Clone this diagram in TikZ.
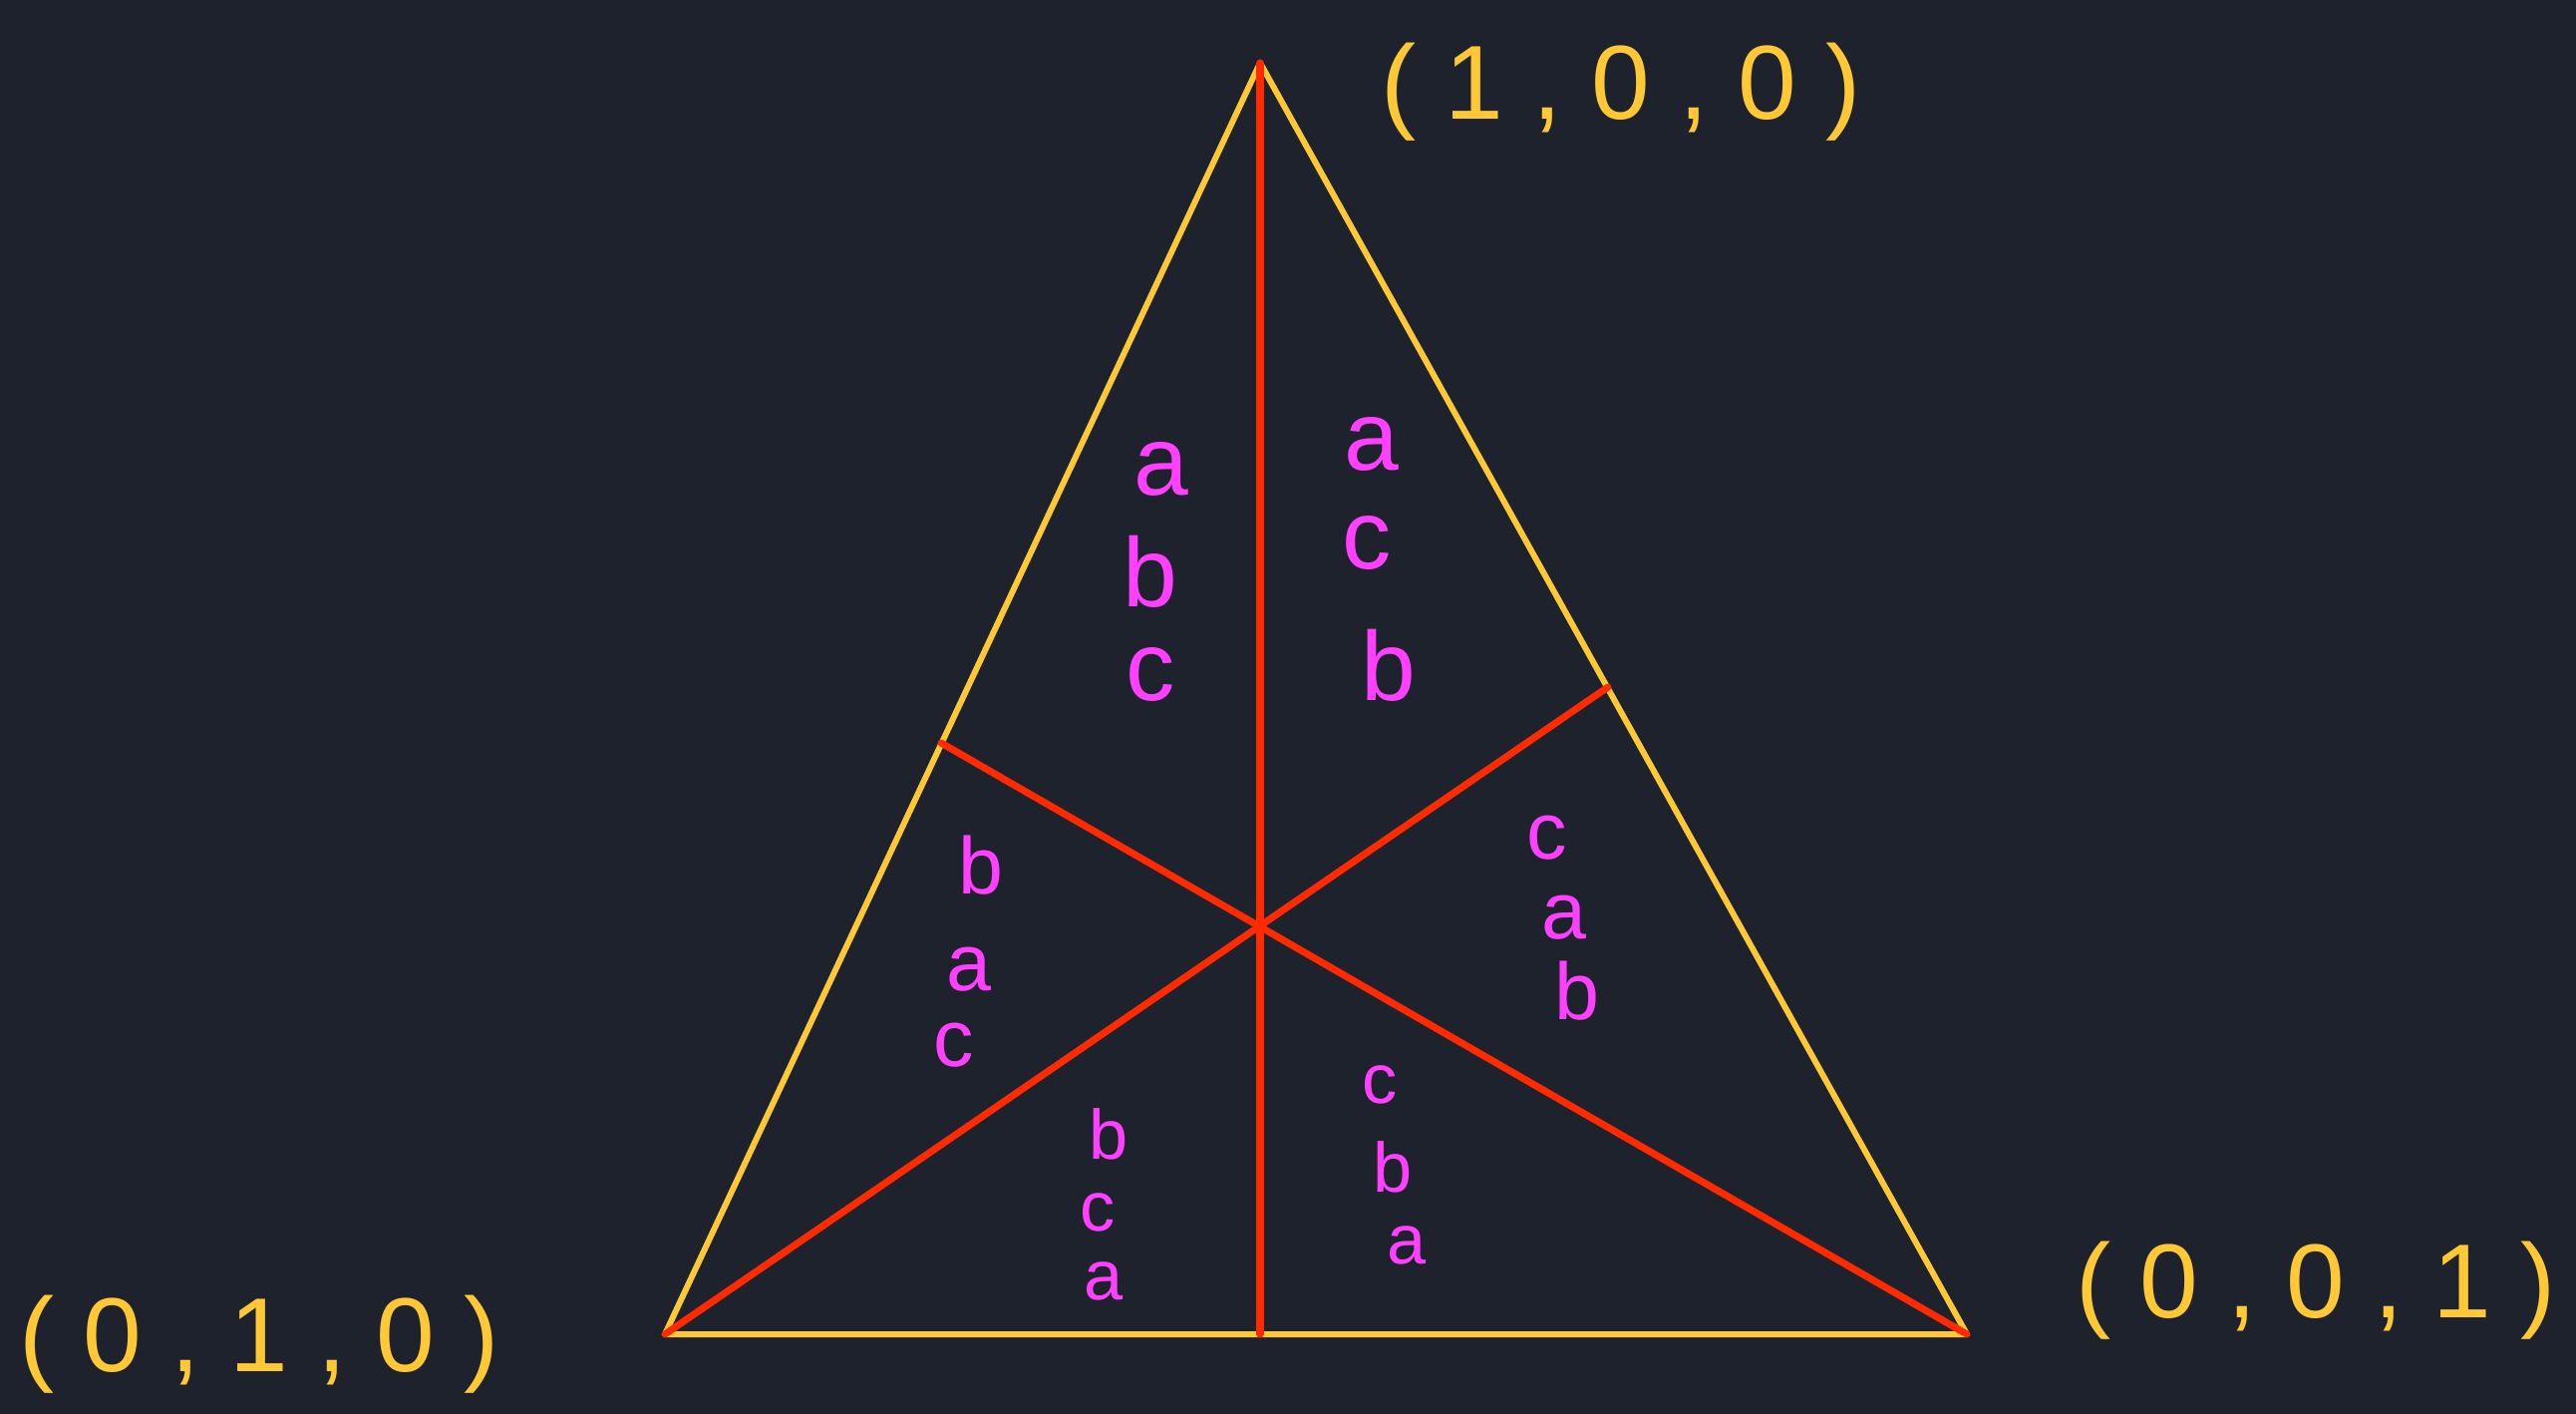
\documentclass[tikz,border=0pt]{standalone}
\usepackage{fontspec}
\setmainfont{Liberation Sans}
\definecolor{bg}{HTML}{1E222D}
\definecolor{yel}{HTML}{FFC834}
\definecolor{redl}{HTML}{FF2A00}
\definecolor{mag}{HTML}{FF40FF}
\begin{document}
\begin{tikzpicture}[x=0.01cm,y=-0.01cm,
  edge/.style={draw=yel,line width=1.7pt,line cap=round,line join=round},
  median/.style={draw=redl,line width=2pt,line cap=round},
  vlabel/.style={text=yel,font=\fontsize{30}{36}\selectfont,inner sep=0pt},
  big/.style={text=mag,font=\fontsize{28}{30}\selectfont,inner sep=0pt},
  mid/.style={text=mag,font=\fontsize{23}{26}\selectfont,inner sep=0pt},
  small/.style={text=mag,font=\fontsize{20}{22}\selectfont,inner sep=0pt}]
\fill[bg] (0,0) rectangle (2584,1418);
\useasboundingbox (0,0) rectangle (2584,1418);
\coordinate (A) at (1264,63);
\coordinate (B) at (667,1338);
\coordinate (C) at (1973,1338);
\coordinate (MBC) at (1264,1338);
\coordinate (MAC) at (1613,689);
\coordinate (MAB) at (944,745);
\draw[edge] (A) -- (B) -- (C) -- cycle;
\draw[median] (A) -- (MBC);
\draw[median] (B) -- (MAC);
\draw[median] (C) -- (MAB);
\node[vlabel] (lA) at (1626,92) {( 1 , 0 , 0 )};
\node[vlabel] (lB) at (260,1348) {( 0 , 1 , 0 )};
\node[vlabel] (lC) at (2323,1294) {( 0 , 0 , 1 )};
% sector 1
\node[big] (s1a) at (1165,470) {a};
\node[big] (s1b) at (1154,573) {b};
\node[big] (s1c) at (1154,676) {c};
% sector 2
\node[big] (s2a) at (1376,445) {a};
\node[big] (s2c) at (1371,544) {c};
\node[big] (s2b) at (1393,667) {b};
% sector 3
\node[mid] (s3b) at (984,868) {b};
\node[mid] (s3a) at (972,972) {a};
\node[mid] (s3c) at (957,1048) {c};
% sector 4
\node[mid] (s4c) at (1552,840) {c};
\node[mid] (s4a) at (1569,920) {a};
\node[mid] (s4b) at (1582,994) {b};
% sector 5
\node[small] (s5b) at (1112,1137) {b};
\node[small] (s5c) at (1101,1216) {c};
\node[small] (s5a) at (1107,1285) {a};
% sector 6
\node[small] (s6c) at (1384,1088) {c};
\node[small] (s6b) at (1397,1170) {b};
\node[small] (s6a) at (1411,1249) {a};
\end{tikzpicture}
\end{document}
